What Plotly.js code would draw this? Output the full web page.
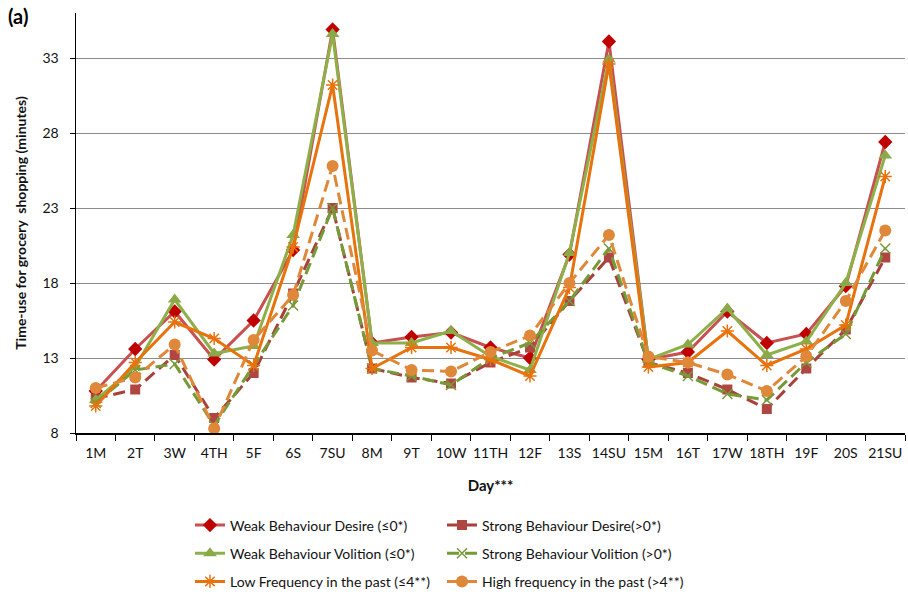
<!DOCTYPE html>
<html>
<head>
<meta charset="utf-8">
<script src="https://cdn.plot.ly/plotly-3.0.1.min.js"></script>
<style>html,body{margin:0;padding:0;background:#fff;}#chart{width:908px;height:598px;}</style>
</head>
<body>
<div id="chart"></div>
<script>
const days = ["1M","2T","3W","4TH","5F","6S","7SU","8M","9T","10W","11TH","12F","13S","14SU","15M","16T","17W","18TH","19F","20S","21SU"];
const weakDesire     = [10.8,13.6,16.1,12.9,15.5,20.2,34.9,14.0,14.4,14.7,13.7,13.0,19.9,34.1,12.9,13.4,16.1,14.0,14.6,17.8,27.4];
const strongDesire   = [10.3,10.9,13.2, 9.0,12.0,17.3,23.0,12.3,11.7,11.3,12.7,13.7,16.8,19.7,12.7,12.0,10.9, 9.6,12.3,14.9,19.7];
const weakVolition   = [10.2,12.4,16.9,13.3,13.8,21.2,34.6,14.0,14.0,14.8,13.1,12.2,20.0,32.9,12.9,13.9,16.3,13.2,14.1,18.0,26.5];
const strongVolition = [10.0,12.2,12.6, 8.5,12.5,16.5,23.0,12.3,11.8,11.2,13.0,14.0,16.8,20.3,12.7,11.8,10.6,10.2,12.7,14.6,20.3];
const lowFreq        = [ 9.8,12.7,15.4,14.3,12.5,20.4,31.2,12.3,13.7,13.7,12.9,11.8,17.7,32.6,12.4,12.7,14.8,12.5,13.6,15.2,25.1];
const highFreq       = [11.0,11.7,13.9, 8.3,14.2,17.2,25.8,13.5,12.2,12.1,13.4,14.5,18.0,21.2,13.1,12.7,11.9,10.8,13.1,16.8,21.5];
const names = ["Weak Behaviour Desire (≤0*)","Strong Behaviour Desire(>0*)","Weak Behaviour Volition (≤0*)","Strong Behaviour Volition (>0*)","Low Frequency in the past (≤4**)","High frequency in the past (>4**)"];

function tr(y, name, lineColor, dash, sym, mColor, msize, leg, grp, mline) {
  return {
    x: days, y: y, name: name, type: 'scatter', mode: 'lines+markers',
    line: {color: lineColor, width: 3, dash: dash},
    marker: {symbol: sym, color: mColor, size: msize, line: mline || {width: 0}},
    legend: leg, legendgroup: grp
  };
}
const traces = [
  tr(weakDesire, names[0], '#C95050', 'solid', 'diamond', '#C00000', 11, 'legend', 'a'),
  tr(strongDesire, names[1], '#A8403C', '12px,6px', 'square', '#B04642', 10, 'legend2', 'b'),
  tr(weakVolition, names[2], '#8EB04A', 'solid', 'triangle-up', '#8AAA48', 12, 'legend', 'c'),
  tr(strongVolition, names[3], '#779A38', '12px,6px', 'x-thin-open', '#779A38', 10, 'legend2', 'd', {width: 1.5, color: '#779A38'}),
  tr(lowFreq, names[4], '#E8720C', 'solid', 'asterisk-open', '#E8720C', 11, 'legend', 'e', {width: 1.5, color: '#E8720C'}),
  tr(highFreq, names[5], '#E0883A', '12px,6px', 'circle', '#E0883A', 12, 'legend2', 'f')
];
const legFont = {family: 'Lato, sans-serif', size: 14, color: '#111'};
const layout = {
  width: 908, height: 598,
  margin: {l: 76, r: 3, t: 13, b: 165, autoexpand: false},
  paper_bgcolor: '#fff', plot_bgcolor: '#fff',
  font: {family: 'Lato, sans-serif', size: 14, color: '#111'},
  showlegend: true,
  xaxis: {
    type: 'category', range: [-0.5, 20.5], autorange: false, showgrid: false, showline: true, linecolor: '#000', linewidth: 1.5,
    ticks: 'outside', tickson: 'boundaries', ticklen: 6, tickcolor: '#000', tickangle: 0, ticklabelstandoff: 7,
    tickfont: {size: 14}, zeroline: false,
    title: {text: '<b>Day***</b>', font: {size: 15}, standoff: 20}
  },
  yaxis: {
    range: [8, 36], autorange: false, tickvals: [8, 13, 18, 23, 28, 33], showgrid: true, gridcolor: '#8c8c8c', gridwidth: 1,
    showline: true, linecolor: '#000', linewidth: 1.5, ticks: 'outside', ticklen: 5, tickcolor: '#000', ticklabelstandoff: 8,
    tickfont: {size: 14}, zeroline: false,
    title: {text: '<b>Time-use for grocery  shopping (minutes)</b>', font: {size: 14}, standoff: 12}
  },
  legend: {x: 0.1375, y: -0.182, xanchor: 'left', yanchor: 'top', orientation: 'v', font: legFont,
           traceorder: 'grouped', tracegroupgap: 7, bgcolor: 'rgba(0,0,0,0)'},
  legend2: {x: 0.4415, y: -0.182, xanchor: 'left', yanchor: 'top', orientation: 'v', font: legFont,
           traceorder: 'grouped', tracegroupgap: 7, bgcolor: 'rgba(0,0,0,0)'},
  annotations: [{text: '<b>(a)</b>', xref: 'paper', yref: 'paper', x: 0, y: 1, xanchor: 'left', yanchor: 'top',
                 xshift: -70, yshift: 11, showarrow: false, font: {size: 20, color: '#000'}}]
};
Plotly.newPlot('chart', traces, layout, {displayModeBar: false, staticPlot: true});
</script>
</body>
</html>
